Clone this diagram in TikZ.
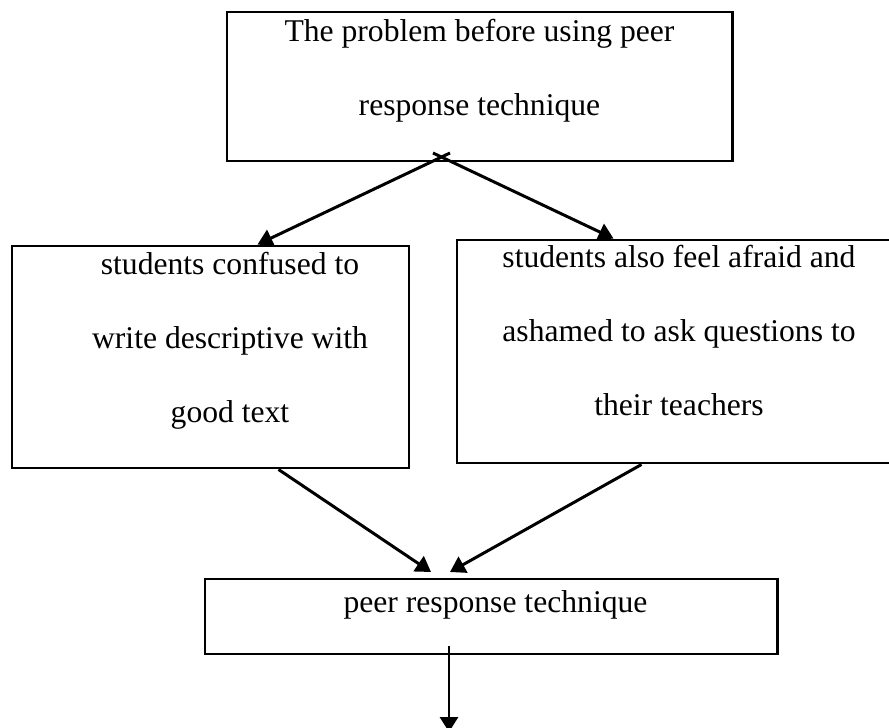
\documentclass[tikz,border=0pt]{standalone}
\usepackage{fontspec}
\setmainfont{Liberation Serif}
\usetikzlibrary{positioning,arrows.meta}

\tikzset{
    box/.style={draw,line width=1.7pt,inner sep=0pt},
    txt/.style={align=center,inner sep=0pt,font=\fontsize{18}{42}\selectfont},
    arr/.style={line width=1.7pt,-{Triangle[length=0.3cm,width=0.36cm]}}
}
\newcommand{\firstline}{\rule{0pt}{13pt}}

\begin{document}
\begin{tikzpicture}
    \useasboundingbox (0,0) rectangle (17.78,14.54);
    % boxes
    \node[box,minimum width=10.1cm,minimum height=2.98cm] (problem) at (9.59,12.81) {};
    \node[box,minimum width=7.94cm,minimum height=4.44cm] (confused) at (4.21,7.40) {};
    \node[box,minimum width=8.96cm,minimum height=4.46cm] (afraid) at (13.62,7.51) {};
    \node[box,minimum width=11.44cm,minimum height=1.5cm] (peer) at (9.82,2.21) {};
    % texts
    \node[txt,below=0.16cm of problem.north] (problemtext)
        {\firstline The problem before using peer\\response technique};
    \node[txt,below=0.14cm of confused.north,xshift=0.39cm] (confusedtext)
        {\firstline students confused to\\write descriptive with\\good text};
    \node[txt,below=0.12cm of afraid.north,xshift=-0.04cm] (afraidtext)
        {\firstline students also feel afraid and\\ashamed to ask questions to\\their teachers};
    \node[txt,below=0.24cm of peer.north,xshift=0.09cm] (peertext)
        {\firstline peer response technique};
    % free ends
    \coordinate (splitl) at (9.00,11.48);
    \coordinate (splitr) at (8.66,11.48);
    \coordinate (joinl) at (8.62,3.10);
    \coordinate (joinr) at (9.00,3.10);
    \coordinate (outstart) at (8.98,1.62);
    \coordinate (outend) at (8.98,-0.1);
    % arrows
    \draw[arr] (splitl) -- ([xshift=4.94cm]confused.north west);
    \draw[arr] (splitr) -- ([xshift=3.16cm]afraid.north west);
    \draw[arr] ([xshift=5.36cm]confused.south west) -- (joinl);
    \draw[arr] ([xshift=3.72cm]afraid.south west) -- (joinr);
    \draw[arr] (outstart) -- (outend);
\end{tikzpicture}
\end{document}
